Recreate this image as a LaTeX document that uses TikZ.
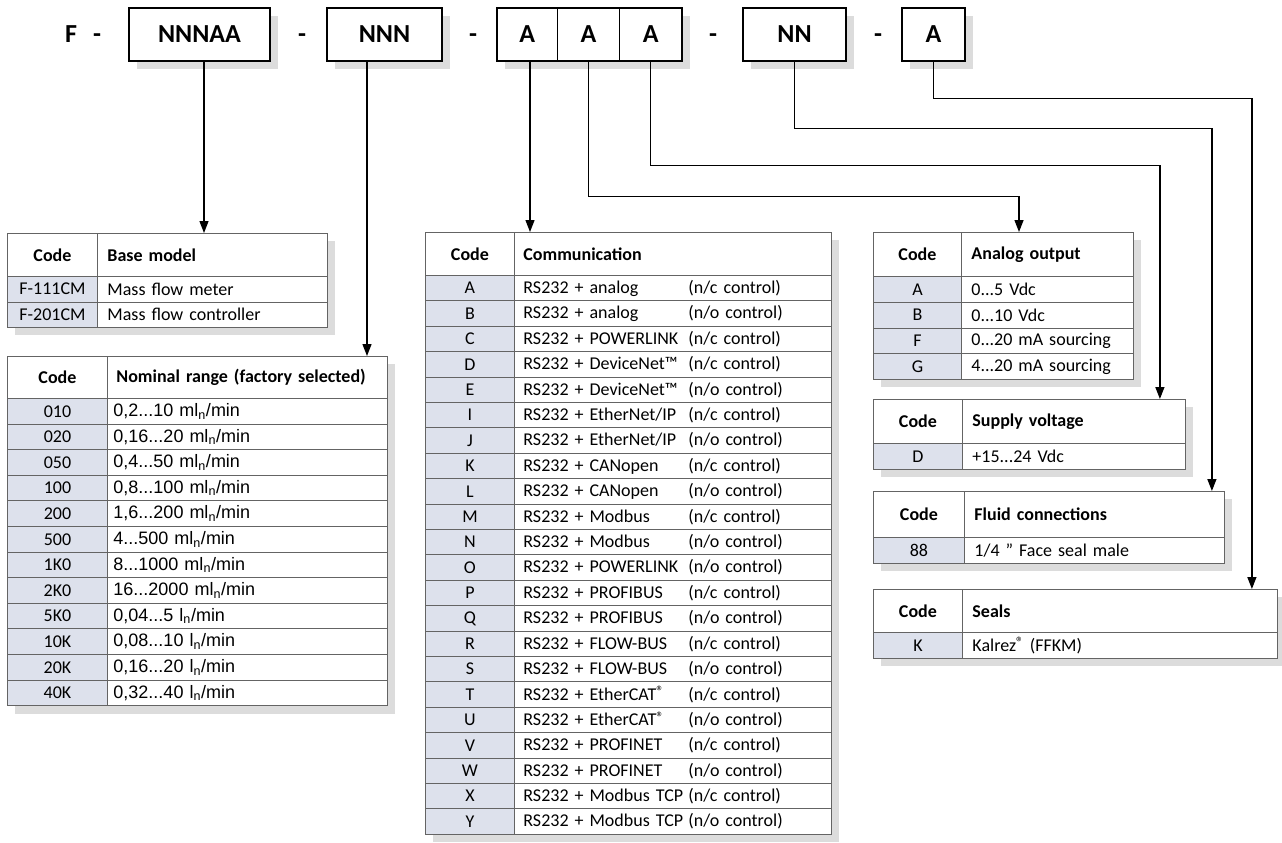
\documentclass[tikz,border=0pt]{standalone}
\usepackage{fontspec}
\setmainfont{Carlito}
\newfontfamily\arialfont{Liberation Sans}
\usetikzlibrary{arrows.meta,shadows}

\definecolor{codefill}{RGB}{221,225,236}
\definecolor{cellline}{RGB}{100,100,100}
\definecolor{shadowgray}{RGB}{220,220,220}

\newcommand{\tabfont}{\fontsize{18}{21}\selectfont}
\newcommand{\tdots}{...}
\newcommand{\mln}{ml\textsubscript{n}/min}
\newcommand{\lnmin}{l\textsubscript{n}/min}
\newcommand{\regmark}{\raisebox{0.2em}{\fontsize{15}{15}\selectfont ®}}

\tikzset{
  softshadow/.style={drop shadow={shadow xshift=8pt, shadow yshift=-8pt, fill=shadowgray, opacity=1}},
  partbox/.style={draw=black, line width=1.3pt, fill=white, minimum height=53pt, inner sep=0pt,
    font=\fontsize{26}{30}\selectfont\bfseries, softshadow},
  partsep/.style={inner sep=0pt, anchor=base, font=\fontsize{26}{30}\selectfont\bfseries},
  cell/.style={draw=cellline, line width=0.9pt, anchor=north west, inner sep=0pt, font=\tabfont, softshadow},
  codecell/.style={cell, fill=codefill, align=center},
  headcode/.style={cell, fill=white, align=center, font=\tabfont\bfseries},
  valcell/.style={cell, fill=white, align=left, inner xsep=10pt},
  headval/.style={valcell, font=\tabfont\bfseries},
  conn/.style={line width=1.3pt, -{Triangle[length=12pt,width=9pt]}},
}

\begin{document}
\begin{tikzpicture}[x=1pt, y=-1pt]
    \useasboundingbox (0,0) rectangle (1282,843);
    \fill[white] (0,0) rectangle (1282,843);

    % Order code
    \node[partsep] (f) at (71,43) {F};
    \node[partsep] (dash0) at (97,43) {-};
    \node[partbox, minimum width=141pt] (nnnaa) at (199.5,34.5) {NNNAA};
    \node[partsep] (dash1) at (302,43) {-};
    \node[partbox, minimum width=115pt] (nnn) at (384.5,34.5) {NNN};
    \node[partsep] (dash2) at (473,43) {-};
    \node[partbox, minimum width=60.5pt] (a1) at (527.25,34.5) {A};
    \node[partbox, minimum width=62pt] (a2) at (588.5,34.5) {A};
    \node[partbox, minimum width=62.4pt] (a3) at (650.8,34.5) {A};
    \node[partsep] (dash3) at (713,43) {-};
    \node[partbox, minimum width=103pt] (nn) at (794.5,34.5) {NN};
    \node[partsep] (dash4) at (878,43) {-};
    \node[partbox, minimum width=63pt] (a4) at (933.5,34.5) {A};

    % Base model
    \node[headcode, minimum width=90pt, minimum height=43pt] (baseHc) at (7,233) {Code};
    \node[headval, text width=210pt, minimum height=43pt] (baseHv) at (97,233) {Base model};
    \foreach \c/\v [count=\i from 0] in {F-111CM/Mass flow meter, F-201CM/Mass flow controller} {
        \node[codecell, minimum width=90pt, minimum height=25.5pt] (base\i c) at (7,{276+25.5*\i}) {\c};
        \node[valcell, text width=210pt, minimum height=25.5pt] (base\i v) at (97,{276+25.5*\i}) {\v};
    }

    % Nominal range
    \node[headcode, minimum width=100pt, minimum height=42pt] (nomHc) at (7,356) {Code};
    \node[headval, inner xsep=9pt, text width=262pt, minimum height=42pt] (nomHv) at (107,356) {Nominal range (factory selected)};
    \foreach \c/\v [count=\i from 0] in {010/{0,2\tdots10 \mln}, 020/{0,16\tdots20 \mln},
        050/{0,4\tdots50 \mln}, 100/{0,8\tdots100 \mln}, 200/{1,6\tdots200 \mln},
        500/{4\tdots500 \mln}, 1K0/{8\tdots1000 \mln}, 2K0/{16\tdots2000 \mln},
        5K0/{0,04\tdots5 \lnmin}, 10K/{0,08\tdots10 \lnmin}, 20K/{0,16\tdots20 \lnmin},
        40K/{0,32\tdots40 \lnmin}} {
        \node[codecell, minimum width=100pt, minimum height=25.6pt] (nom\i c) at (7,{398+25.6*\i}) {\c};
        \node[valcell, inner xsep=6pt, text width=268pt, minimum height=25.6pt, font=\arialfont\tabfont] (nom\i v) at (107,{398+25.6*\i}) {\v};
    }

    % Communication
    \node[headcode, minimum width=89pt, minimum height=43pt] (comHc) at (425,232) {Code};
    \node[headval, inner xsep=9pt, text width=299pt, minimum height=43pt] (comHv) at (514,232) {Communication};
    \foreach \c/\p/\s [count=\i from 0] in {A/analog/c, B/analog/o, C/POWERLINK/c,
        D/DeviceNet™/c, E/DeviceNet™/o, I/{EtherNet/IP}/c, J/{EtherNet/IP}/o,
        K/CANopen/c, L/CANopen/o, M/Modbus/c, N/Modbus/o, O/POWERLINK/o,
        P/PROFIBUS/c, Q/PROFIBUS/o, R/FLOW-BUS/c, S/FLOW-BUS/o,
        T/EtherCAT\regmark/c, U/EtherCAT\regmark/o,
        V/PROFINET/c, W/PROFINET/o, X/Modbus TCP/c, Y/Modbus TCP/o} {
        \node[codecell, minimum width=89pt, minimum height=25.4pt] (com\i c) at (425,{275+25.4*\i}) {\c};
        \node[valcell, inner xsep=9pt, text width=299pt, minimum height=25.4pt] (com\i v) at (514,{275+25.4*\i})
            {\makebox[165pt][l]{RS232 + \p}(n/\s\ control)};
    }

    % Analog output
    \node[headcode, minimum width=88pt, minimum height=44pt] (anaHc) at (873,232) {Code};
    \node[headval, text width=152pt, minimum height=44pt] (anaHv) at (961,232) {Analog output};
    \foreach \c/\v [count=\i from 0] in {A/0\tdots5 Vdc, B/0\tdots10 Vdc, F/0\tdots20 mA sourcing, G/4\tdots20 mA sourcing} {
        \node[codecell, minimum width=88pt, minimum height=25.75pt] (ana\i c) at (873,{276+25.75*\i}) {\c};
        \node[valcell, text width=152pt, minimum height=25.75pt] (ana\i v) at (961,{276+25.75*\i}) {\v};
    }

    % Supply voltage
    \node[headcode, minimum width=89pt, minimum height=44pt] (supHc) at (873,399) {Code};
    \node[headval, text width=203pt, minimum height=44pt] (supHv) at (962,399) {Supply voltage};
    \node[codecell, minimum width=89pt, minimum height=26pt] (sup0c) at (873,443) {D};
    \node[valcell, text width=203pt, minimum height=26pt] (sup0v) at (962,443) {+15\tdots24 Vdc};

    % Fluid connections
    \node[headcode, minimum width=91pt, minimum height=46pt] (fluHc) at (873,491) {Code};
    \node[headval, text width=240pt, minimum height=46pt] (fluHv) at (964,491) {Fluid connections};
    \node[codecell, minimum width=91pt, minimum height=26pt] (flu0c) at (873,537) {88};
    \node[valcell, text width=240pt, minimum height=26pt] (flu0v) at (964,537) {1/4 " Face seal male};

    % Seals
    \node[headcode, minimum width=89pt, minimum height=43pt] (sealHc) at (873,589) {Code};
    \node[headval, text width=295pt, minimum height=43pt] (sealHv) at (962,589) {Seals};
    \node[codecell, minimum width=89pt, minimum height=26pt] (seal0c) at (873,632) {K};
    \node[valcell, text width=295pt, minimum height=26pt] (seal0v) at (962,632) {Kalrez\regmark{} (FFKM)};

    % Connectors
    \coordinate (nnnaaOut) at ([xshift=4.5pt]nnnaa.south);
    \coordinate (nnnOut) at ([xshift=-17.5pt]nnn.south);
    \coordinate (a1Out) at ([xshift=2.75pt]a1.south);
    \draw[conn] (nnnaaOut) -- (nnnaaOut |- baseHv.north);
    \draw[conn] (nnnOut) -- (nnnOut |- nomHv.north);
    \draw[conn] (a1Out) -- (a1Out |- comHv.north);
    \draw[conn] (a2.south) -- ++(0,135) -| ([xshift=58pt]anaHv.north west);
    \draw[conn] (a3.south) -- ++(0,104) -| ([xshift=-26pt]supHv.north east);
    \draw[conn] (nn.south) -- ++(0,67) -| ([xshift=-13pt]fluHv.north east);
    \draw[conn] (a4.south) -- ++(0,37) -| ([xshift=-26pt]sealHv.north east);
\end{tikzpicture}
\end{document}
